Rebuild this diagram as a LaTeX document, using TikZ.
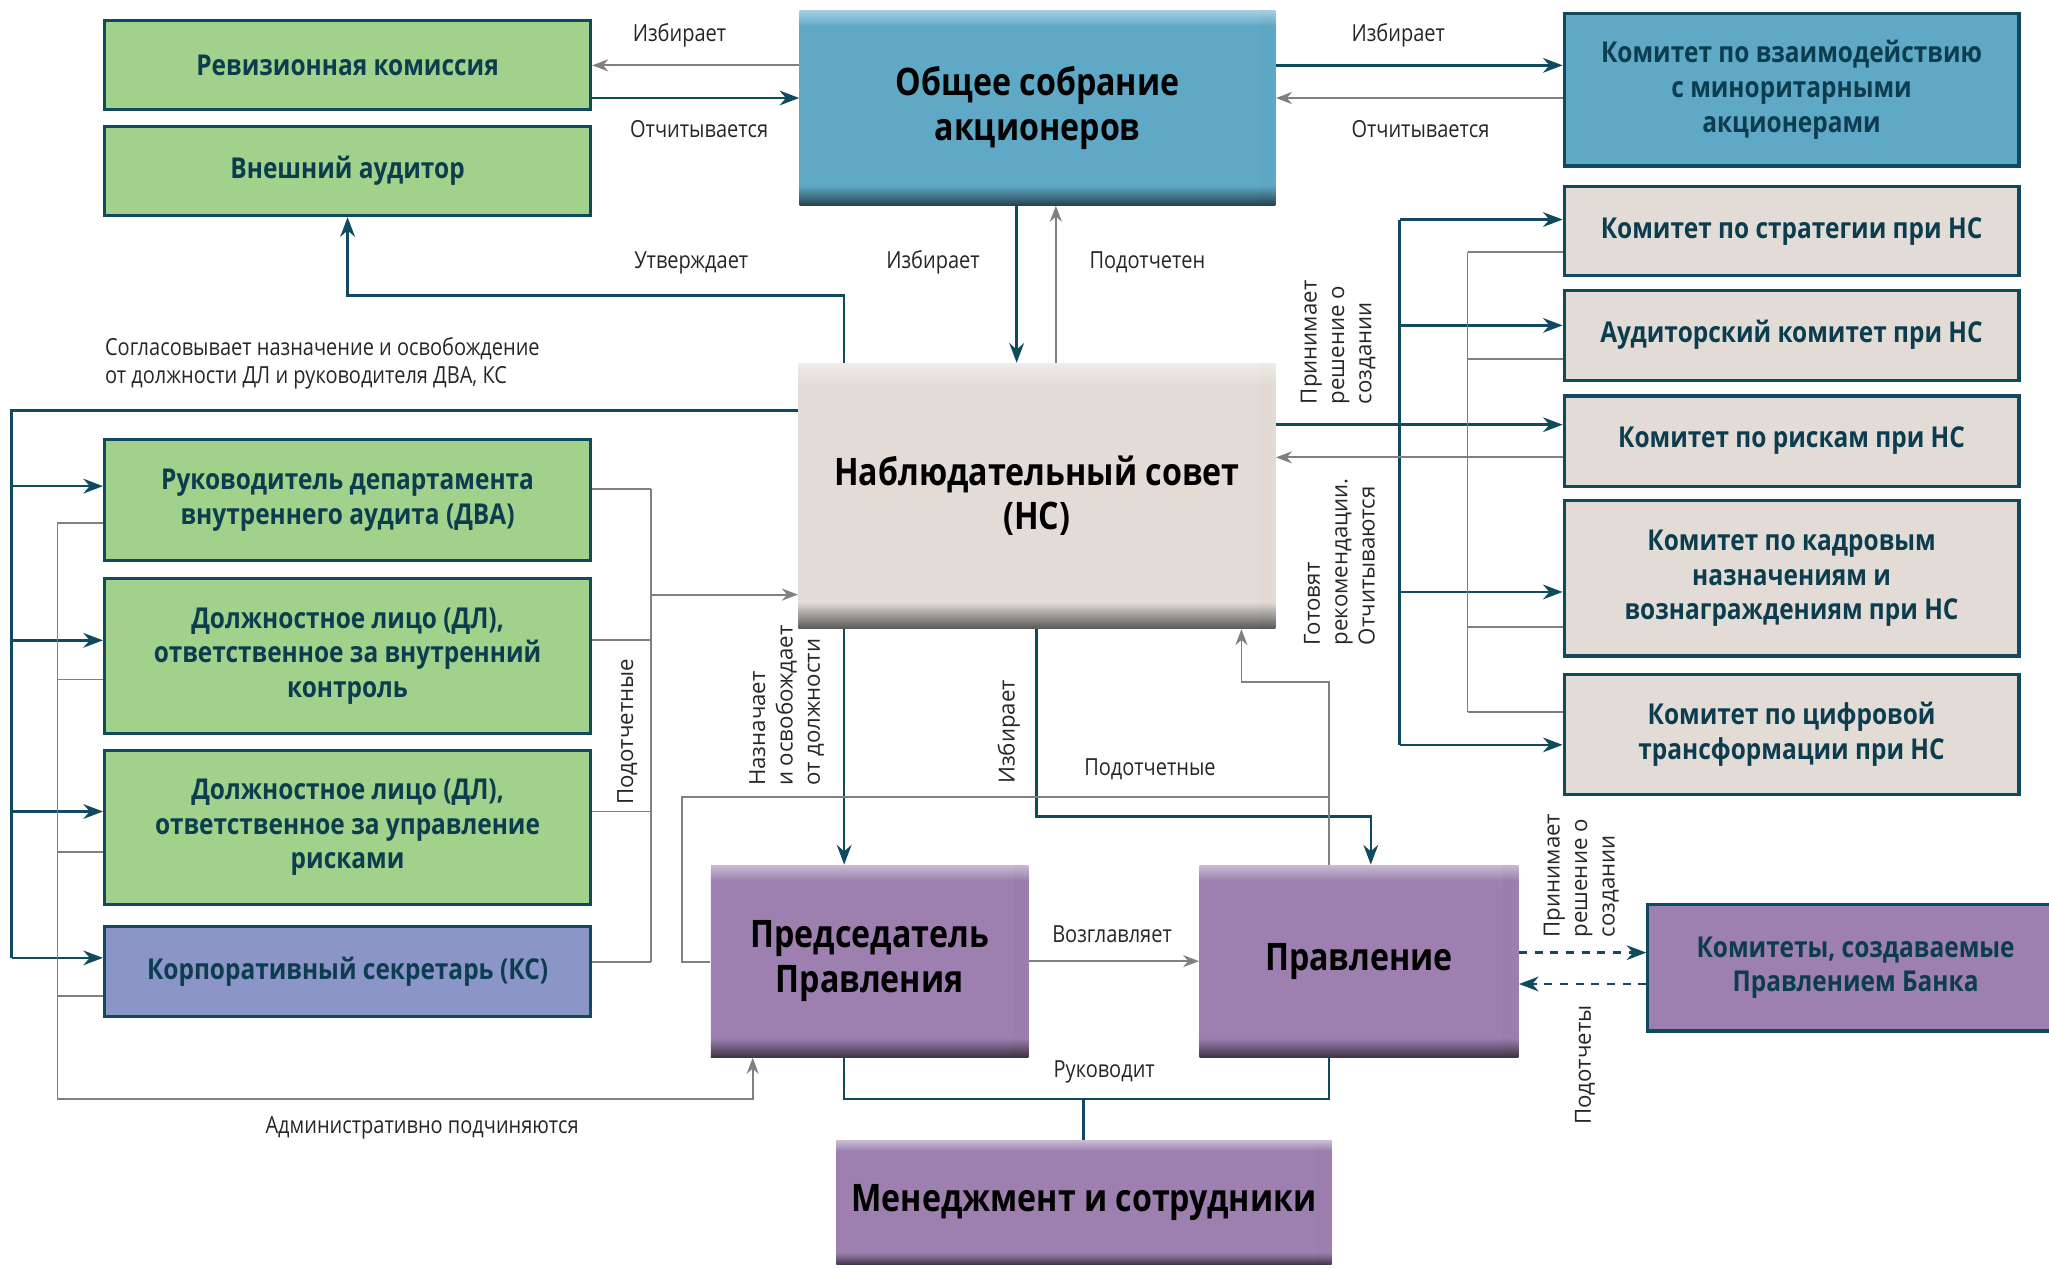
\documentclass[tikz,border=0pt]{standalone}
\usepackage{fontspec}
\usepackage{tikz}
\usetikzlibrary{arrows.meta,fadings}
\setmainfont{Open Sans}
\newfontfamily\condfont[FakeStretch=0.85]{Open Sans}
\newcommand\boxfont{\condfont\bfseries\fontsize{11}{13.3}\selectfont}
\newcommand\bigfont{\condfont\bfseries\fontsize{14.5}{17}\selectfont}
\newcommand\lblfont{\condfont\fontsize{9}{11}\selectfont}
\newcommand\rotfont{\fontsize{8.5}{10.5}\selectfont}
\definecolor{tealline}{HTML}{0F4A5E}
\definecolor{grayline}{HTML}{808080}
\definecolor{boxtext}{HTML}{0B3D4F}
\definecolor{boxgreen}{HTML}{A1D18B}
\definecolor{boxblue}{HTML}{5FA8C6}
\definecolor{boxbeige}{HTML}{E3DCD6}
\definecolor{boxlilac}{HTML}{8B95C8}
\definecolor{boxpurple}{HTML}{9D80AF}
\colorlet{bandcol}{boxblue}
\pgfdeclareverticalshading[bandcol]{band3d}{100bp}{color(0bp)=(bandcol!40!black); color(25bp)=(bandcol!40!black); color(30bp)=(bandcol); color(71bp)=(bandcol); color(75bp)=(bandcol!55!white); color(100bp)=(bandcol!55!white)}
\tikzset{
  >=Stealth,
  tline/.style={draw=tealline, line width=1pt},
  gline/.style={draw=grayline, line width=0.7pt},
  cbox/.style={draw=tealline, line width=1.2pt, fill=#1, text=boxtext,
    font=\boxfont, align=center, inner sep=0pt},
  box3d/.style={/utils/exec={\colorlet{bandcol}{#1}}, shading=band3d,
    text=black, font=\bigfont, align=center, inner sep=0pt,
    path picture={
      \fill[black, opacity=0.4, path fading=east] ([xshift=-6pt]path picture bounding box.north east) rectangle (path picture bounding box.south east);
    }},
  lbl/.style={font=\lblfont, text=black!85, inner sep=0pt},
  rlbl/.style={font=\rotfont, text=black!85, rotate=90, align=left, inner sep=0pt},
}
\begin{document}
\begin{tikzpicture}[x=0.5pt, y=-0.5pt]
\useasboundingbox (0,0) rectangle (1568,970);
% The boxes
\node[cbox=boxgreen, minimum width=186pt, minimum height=34pt] (rev) at (266,50) {Ревизионная комиссия};
\node[cbox=boxgreen, minimum width=186pt, minimum height=34pt] (ext) at (266,131) {Внешний аудитор};
\node[box3d=boxblue, minimum width=182pt, minimum height=74.5pt] (gsm) at (794,82.5) {Общее собрание\\акционеров};
\node[cbox=boxblue, minimum width=174pt, minimum height=58.5pt] (kmin) at (1371,68.5) {Комитет по взаимодействию\\с миноритарными\\акционерами};
\node[cbox=boxbeige, minimum width=174pt, minimum height=34pt] (ksr) at (1371,177) {Комитет по стратегии при НС};
\node[cbox=boxbeige, minimum width=174pt, minimum height=34.5pt] (kaud) at (1371,256.5) {Аудиторский комитет при НС};
\node[cbox=boxbeige, minimum width=174pt, minimum height=34.5pt] (krisk) at (1371,337.5) {Комитет по рискам при НС};
\node[cbox=boxbeige, minimum width=174pt, minimum height=59.5pt] (kpers) at (1371,442.5) {Комитет по кадровым\\назначениям и\\вознаграждениям при НС};
\node[cbox=boxbeige, minimum width=174pt, minimum height=46pt] (kdig) at (1371,562) {Комитет по цифровой\\трансформации при НС};
\node[box3d=boxbeige, minimum width=182.5pt, minimum height=101.5pt] (ns) at (793.5,379.5) {Наблюдательный совет\\(НС)};
\node[cbox=boxgreen, minimum width=186pt, minimum height=46.5pt] (dva) at (266,382.5) {Руководитель департамента\\внутреннего аудита (ДВА)};
\node[cbox=boxgreen, minimum width=186pt, minimum height=59pt] (dlic) at (266,502) {Должностное лицо (ДЛ),\\ответственное за внутренний\\контроль};
\node[cbox=boxgreen, minimum width=186pt, minimum height=59pt] (dlrm) at (266,633) {Должностное лицо (ДЛ),\\ответственное за управление\\рисками};
\node[cbox=boxlilac, minimum width=186pt, minimum height=34.5pt] (ks) at (266,743.5) {Корпоративный секретарь (КС)};
\node[box3d=boxpurple, minimum width=121.5pt, minimum height=73.5pt] (chair) at (665.5,735.5) {Председатель\\Правления};
\node[box3d=boxpurple, minimum width=122pt, minimum height=73.5pt] (board) at (1040,735.5) {Правление};
\node[cbox=boxpurple, minimum width=159pt, minimum height=48.5pt] (bcom) at (1420,740.5) {Комитеты, создаваемые\\Правлением Банка};
\node[box3d=boxpurple, minimum width=189.5pt, minimum height=47.5pt] (staff) at (829.5,920.5) {Менеджмент и сотрудники};

% Shareholders
\draw[gline,->] (gsm.west |- 0,50) -- (rev.east |- 0,50);
\draw[tline,->] (rev.east |- 0,75) -- (gsm.west |- 0,75);
\draw[tline,->] (gsm.east |- 0,50) -- (kmin.west |- 0,50);
\draw[gline,->] (kmin.west |- 0,75) -- (gsm.east |- 0,75);
\draw[tline,->] (gsm.south -| 778,0) -- (ns.north -| 778,0);
\draw[gline,->] (ns.north -| 808,0) -- (gsm.south -| 808,0);
\draw[tline,->] (ns.north -| 646,0) |- (266,226) -- (ext.south);
\node[lbl] (l1) at (520,27) {Избирает};
\node[lbl] (l2) at (535,99) {Отчитывается};
\node[lbl] (l3) at (1070,27) {Избирает};
\node[lbl] (l4) at (1087,99) {Отчитывается};
\node[lbl] (l5) at (529,201) {Утверждает};
\node[lbl] (l6) at (714,201) {Избирает};
\node[lbl] (l7) at (878,201) {Подотчетен};

% Left column
\draw[tline] (ns.west |- 0,314) -| (9,733);
\foreach \b/\y in {dva/372, dlic/490, dlrm/621, ks/733}
  \draw[tline,->] (9,\y) -- (\b.west |- 0,\y);
\node[lbl, anchor=west, align=left] (l8) at (80,278) {Согласовывает назначение и освобождение\\от должности ДЛ и руководителя ДВА, КС};
\foreach \b/\y in {dva/400, dlic/520, dlrm/652, ks/762}
  \draw[gline] (\b.west |- 0,\y) -- (44,\y);
\draw[gline,->] (44,400) |- (576,841) -- (chair.south -| 576,0);
\node[lbl] (l9) at (323,863) {Административно подчиняются};
\foreach \b/\y in {dva/374, dlic/490, dlrm/621, ks/736}
  \draw[gline] (\b.east |- 0,\y) -- (498,\y);
\draw[gline] (498,374) -- (498,736);
\draw[gline,->] (498,455) -- (ns.west |- 0,455);
\node[rlbl] (l10) at (480,560) {Подотчетные};

% Management
\draw[tline,->] (ns.south -| 646,0) -- (chair.north -| 646,0);
\node[rlbl] (l11) at (602,540) {Назначает\\и освобождает\\от должности};
\draw[tline,->] (ns.south -| 793,0) |- (1049,625) -- (board.north -| 1049,0);
\node[rlbl] (l12) at (772,560) {Избирает};
\draw[gline] (chair.west |- 0,736) -| (522,610) -| (board.north -| 1017,0);
\draw[gline,->] (1017,610) |- (950,522) -- (ns.south -| 950,0);
\node[lbl] (l13) at (880,589) {Подотчетные};
\draw[gline,->] (chair.east) -- (board.west);
\node[lbl] (l14) at (851,715) {Возглавляет};
\draw[tline] (chair.south -| 646,0) -- (646,841) -| (board.south -| 1017,0);
\draw[tline] (829,841) -- (staff.north -| 829,0);
\node[lbl] (l15) at (845,820) {Руководит};
\draw[tline,dashed,->] (board.east |- 0,729) -- (bcom.west |- 0,729);
\draw[tline,dashed,->] (bcom.west |- 0,753) -- (board.east |- 0,753);
\node[rlbl] (l16) at (1210,670) {Принимает\\решение о\\создании};
\node[rlbl] (l17) at (1213,815) {Подотчеты};

% Board committees
\draw[tline,->] (ns.east |- 0,325) -- (krisk.west |- 0,325);
\draw[tline] (1071,168) -- (1071,570);
\foreach \b/\y in {ksr/168, kaud/249, kpers/453, kdig/570}
  \draw[tline,->] (1071,\y) -- (\b.west |- 0,\y);
\draw[gline] (1123,193) -- (1123,545);
\foreach \b/\y in {ksr/193, kaud/275, kpers/480, kdig/545}
  \draw[gline] (\b.west |- 0,\y) -- (1123,\y);
\draw[gline,->] (krisk.west |- 0,350) -- (ns.east |- 0,350);
\node[rlbl] (l18) at (1024,262) {Принимает\\решение о\\создании};
\node[rlbl] (l19) at (1025,430) {Готовят\\рекомендации.\\Отчитываются};
\end{tikzpicture}
\end{document}
